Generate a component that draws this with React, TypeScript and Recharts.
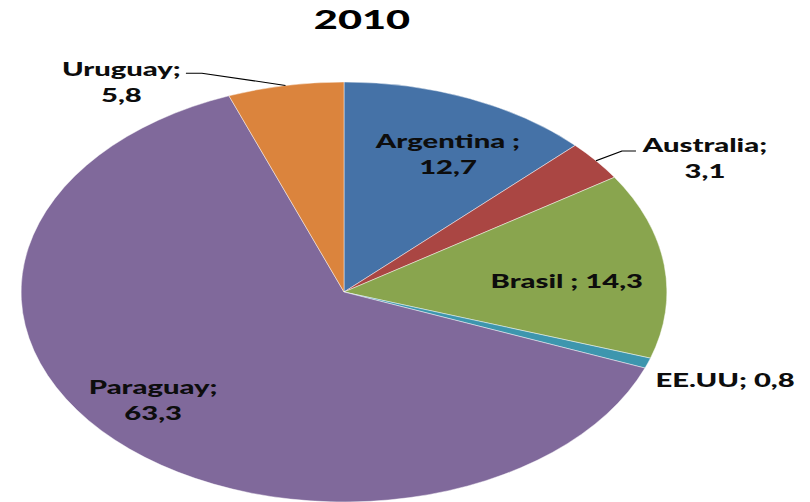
import React from "react";
import { Cell, Pie, PieChart } from "recharts";

// 2010 share by country (%)
const countries = ["Argentina", "Australia", "Brasil", "EE.UU", "Paraguay", "Uruguay"];
const shares = [12.7, 3.1, 14.3, 0.8, 63.3, 5.8];
const separators = [" ;", ";", " ;", ";", ";", ";"];
const colors = ["#4572A7", "#AA4643", "#89A54E", "#3D96AE", "#80699B", "#DB843D"];

const data = countries.map((name, i) => ({ name, value: shares[i] }));

// the original is a round pie stretched sideways, so draw it round and stretch it
const S = 1.5376;
const W = 527;
const H = 502;

// label placement: angle clockwise from 12 o'clock, radius factor, one or two lines, leader (page px offsets)
const labelLayout: Record<string, { a: number; k: number; split: boolean; leader?: [number, number, number, number] }> = {
  Argentina: { a: 26.1, k: 0.732, split: true },
  Australia: { a: 60.3, k: 1.287, split: true, leader: [-69, -7, -83, -7] },
  Brasil: { a: 85.7, k: 0.692, split: false },
  "EE.UU": { a: 109.5, k: 1.252, split: false },
  Paraguay: { a: 229.1, k: 0.782, split: true },
  Uruguay: { a: 325.4, k: 1.214, split: true, leader: [64.5, -9, 80.5, -9] },
};

const RAD = Math.PI / 180;

function renderLabel(props: any) {
  const { cx, cy, outerRadius, midAngle, index } = props;
  const name = countries[index];
  const lay = labelLayout[name];
  const x = cx + lay.k * outerRadius * Math.sin(lay.a * RAD);
  const y = cy - lay.k * outerRadius * Math.cos(lay.a * RAD);
  const head = name + separators[index];
  const val = shares[index].toFixed(1).replace(".", ",");
  const ex = cx + outerRadius * Math.cos(-midAngle * RAD);
  const ey = cy + outerRadius * Math.sin(-midAngle * RAD);
  const style = { fontFamily: "Lato, 'Open Sans', sans-serif", fontWeight: 900, fontSize: 19, fill: "#0d0d0d" };
  return (
    <g key={name}>
      {lay.leader && (
        <polyline
          points={`${x + lay.leader[0] / S},${y + lay.leader[1]} ${x + lay.leader[2] / S},${y + lay.leader[3]} ${ex},${ey}`}
          fill="none"
          stroke="#000"
          strokeWidth={1}
        />
      )}
      {lay.split ? (
        <text x={x} textAnchor="middle" style={style}>
          <tspan x={x} y={y - 6}>{head}</tspan>
          <tspan x={x} y={y + 20}>{val}</tspan>
        </text>
      ) : (
        <text x={x} y={y + 7} textAnchor="middle" style={style}>
          {`${head} ${val}`}
        </text>
      )}
    </g>
  );
}

export default function App() {
  return (
    <div style={{ position: "fixed", left: 0, top: 0, width: 810, height: H, overflow: "hidden", background: "#fff" }}>
      <div style={{ position: "absolute", left: 0, top: 0, width: W, height: H, transform: `scaleX(${S})`, transformOrigin: "0 0" }}>
        <svg width={W} height={50} style={{ position: "absolute", left: 0, top: 0 }}>
          <text x={362 / S} y={29} textAnchor="middle" style={{ fontFamily: "Lato, sans-serif", fontWeight: 900, fontSize: 27, fill: "#000" }}>
            2010
          </text>
        </svg>
        <PieChart width={W} height={H} margin={{ top: 0, right: 0, bottom: 0, left: 0 }}>
          <Pie
            data={data}
            dataKey="value"
            nameKey="name"
            cx={344 / S}
            cy={292}
            outerRadius={210}
            startAngle={90}
            endAngle={-270}
            stroke="rgba(255,255,255,0.6)"
            strokeWidth={0.6}
            label={renderLabel}
            labelLine={false}
            isAnimationActive={false}
          >
            {data.map((d, i) => (
              <Cell key={d.name} fill={colors[i]} />
            ))}
          </Pie>
        </PieChart>
      </div>
    </div>
  );
}
